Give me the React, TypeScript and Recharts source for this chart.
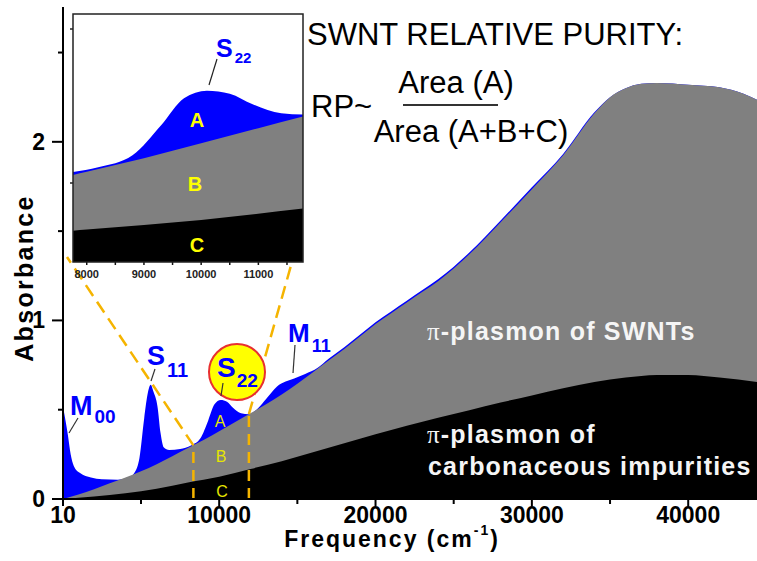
import { AreaChart, Area, XAxis, YAxis, ReferenceLine } from 'recharts';

// ---------------------------------------------------------------------------
// Data
// ---------------------------------------------------------------------------

// total absorbance (blue)
const totalFreq = [
  10, 150, 320, 500, 700, 1100, 1800, 2500, 3500, 4200, 4600, 4900, 5200, 5450, 5620,
  5800, 6050, 6250, 6450, 6800, 7500, 8200, 8800, 9300, 9700, 10100, 10500, 10900,
  11400, 11900, 12500, 13000, 13700, 14800, 15500, 16300, 17000, 18000, 19000, 20000,
  21000, 22000, 23000, 24000, 26000, 28000, 30000, 32000, 34000, 35000, 36000, 37000,
  38000, 40000, 42000, 43500, 44400,
];
const totalAbs = [
  0.52, 0.45, 0.36, 0.25, 0.185, 0.145, 0.12, 0.11, 0.108, 0.12, 0.15, 0.23, 0.45, 0.6,
  0.64, 0.6, 0.52, 0.37, 0.29, 0.275, 0.28, 0.3, 0.34, 0.44, 0.53, 0.555, 0.545, 0.51,
  0.48, 0.475, 0.51, 0.56, 0.63, 0.675, 0.7, 0.735, 0.785, 0.85, 0.92, 0.99,
  1.05, 1.11, 1.17, 1.23, 1.38, 1.56, 1.745, 1.932, 2.165, 2.25, 2.3, 2.325,
  2.33, 2.32, 2.305, 2.27, 2.235,
];

// pi-plasmon of SWNTs + impurities (gray)
const plasmonFreq = [
  10, 1000, 2000, 3000, 4000, 5000, 6000, 7000, 8000, 9000, 10000, 11000, 12000, 13000,
  14000, 15000, 16000, 17000, 18000, 19000, 20000, 21000, 22000, 23000, 24000, 26000,
  28000, 30000, 32000, 34000, 35000, 36000, 37000, 38000, 40000, 42000, 43500, 44400,
];
const plasmonAbs = [
  0, 0.025, 0.055, 0.088, 0.12, 0.155, 0.195, 0.24, 0.285, 0.33, 0.38, 0.43, 0.48, 0.53,
  0.585, 0.645, 0.71, 0.775, 0.84, 0.91, 0.98, 1.04, 1.1, 1.16, 1.22, 1.37,
  1.55, 1.735, 1.925, 2.16, 2.25, 2.3, 2.325, 2.33, 2.32, 2.305, 2.27, 2.235,
];

// pi-plasmon of carbonaceous impurities (black)
const impurityFreq = [
  10, 2000, 4000, 6000, 8000, 10000, 12000, 14000, 16000, 18000, 20000, 22000, 24000,
  26000, 28000, 30000, 32000, 34000, 36000, 38000, 40000, 42000, 44400,
];
const impurityAbs = [
  0, 0.014, 0.032, 0.058, 0.093, 0.125, 0.168, 0.212, 0.262, 0.312, 0.362, 0.41, 0.455,
  0.497, 0.54, 0.58, 0.62, 0.655, 0.68, 0.695, 0.695, 0.68, 0.655,
];

const xTicks = [10, 5000, 10000, 15000, 20000, 25000, 30000, 35000, 40000];
const yTicks = [0, 0.5, 1, 1.5, 2, 2.5];
const insetTicks = [8000, 8500, 9000, 9500, 10000, 10500, 11000, 11500];

// S22 window shown in the inset
const zoomFrom = 8350;
const zoomTo = 11900;

// ---------------------------------------------------------------------------
// Helpers
// ---------------------------------------------------------------------------

const toRows = (freq: number[], abs: number[]) => freq.map((f, i) => ({ f, a: abs[i] }));

const totalData = toRows(totalFreq, totalAbs);
const plasmonData = toRows(plasmonFreq, plasmonAbs);
const impurityData = toRows(impurityFreq, impurityAbs);

const FONT = '"Liberation Sans", Arial, sans-serif';
const BLUE = '#0000ff';
const GRAY = '#808080';
const ORANGE = '#f5b400';

function XTick({ x, y, payload }: any) {
  const v = payload.value;
  const major = v === 10 || v % 10000 === 0;
  return (
    <g>
      <line x1={x} x2={x} y1={y} y2={y + (major ? 7 : 5)} stroke="#000" strokeWidth={2} />
      {major && (
        <text x={x} y={y + 24} textAnchor="middle" fontSize={23} fontWeight="bold" fontFamily={FONT} fill="#000">
          {v}
        </text>
      )}
    </g>
  );
}

function YTick({ x, y, payload }: any) {
  const v = payload.value;
  const major = Number.isInteger(v);
  return (
    <g>
      <line x1={x} x2={x - (major ? 11 : 5)} y1={y} y2={y} stroke="#000" strokeWidth={2} />
      {major && (
        <text x={x - 18} y={y + 8} textAnchor="end" fontSize={23} fontWeight="bold" fontFamily={FONT} fill="#000">
          {v}
        </text>
      )}
    </g>
  );
}

function InsetTick({ x, y, payload }: any) {
  const v = payload.value;
  return (
    <g>
      <line x1={x} x2={x} y1={y} y2={y + 3} stroke="#111" strokeWidth={1.5} />
      {v % 1000 === 0 && (
        <text x={x} y={y + 16} textAnchor="middle" fontSize={11} fontWeight="bold" fontFamily={FONT} fill="#222">
          {v}
        </text>
      )}
    </g>
  );
}

function Layers() {
  return [
    <Area key="t" data={totalData} dataKey="a" type="monotone" fill={BLUE} fillOpacity={1} stroke="none" isAnimationActive={false} />,
    <Area key="p" data={plasmonData} dataKey="a" type="monotone" fill={GRAY} fillOpacity={1} stroke="none" isAnimationActive={false} />,
    <Area key="i" data={impurityData} dataKey="a" type="monotone" fill="#000" fillOpacity={1} stroke="none" isAnimationActive={false} />,
  ];
}

// ---------------------------------------------------------------------------
// Inset (zoom on S22)
// ---------------------------------------------------------------------------

function Inset() {
  const base = -0.015;
  return (
    <div style={{ position: 'absolute', left: 73, top: 14, width: 230, height: 268 }}>
      <div style={{ position: 'absolute', left: 0, top: 0, width: 230, height: 248, background: '#fff' }} />
      <AreaChart width={230} height={268} margin={{ top: 0, right: 0, bottom: 0, left: 0 }} style={{ position: 'absolute', left: 0, top: 0 }}>
        <XAxis
          dataKey="f"
          type="number"
          domain={[7760, 11780]}
          allowDataOverflow
          ticks={insetTicks}
          interval={0}
          tick={<InsetTick />}
          tickLine={false}
          tickSize={0}
          tickMargin={0}
          axisLine={false}
          height={20}
        />
        <YAxis type="number" domain={[base, 0.81]} allowDataOverflow hide />
        <Area data={totalData} dataKey="a" type="monotone" baseValue={base} fill={BLUE} fillOpacity={1} stroke="none" isAnimationActive={false} />
        <Area data={plasmonData} dataKey="a" type="monotone" baseValue={base} fill={GRAY} fillOpacity={1} stroke="none" isAnimationActive={false} />
        <Area data={impurityData} dataKey="a" type="monotone" baseValue={base} fill="#000" fillOpacity={1} stroke="none" isAnimationActive={false} />
      </AreaChart>
      <svg width={230} height={268} style={{ position: 'absolute', left: 0, top: 0, overflow: 'visible' }}>
        <rect x={0} y={0} width={230} height={248} fill="none" stroke="#222" strokeWidth={1.5} />
        <line x1={0} x2={-3} y1={15} y2={15} stroke="#222" strokeWidth={1.5} />
        <line x1={0} x2={-3} y1={169} y2={169} stroke="#222" strokeWidth={1.5} />
        <line x1={144} y1={45} x2={136} y2={71} stroke="#222" strokeWidth={1.2} />
        <text x={143} y={43} fontFamily={FONT} fontWeight="bold" fill={BLUE} fontSize={25}>
          S<tspan fontSize={15} dx={2} dy={6}>22</tspan>
        </text>
        <text x={124} y={113} textAnchor="middle" fontFamily={FONT} fontWeight="bold" fill="#ffff00" fontSize={20}>A</text>
        <text x={122} y={177} textAnchor="middle" fontFamily={FONT} fontWeight="bold" fill="#ffff00" fontSize={20}>B</text>
        <text x={124} y={238} textAnchor="middle" fontFamily={FONT} fontWeight="bold" fill="#ffff00" fontSize={20}>C</text>
      </svg>
    </div>
  );
}

// ---------------------------------------------------------------------------
// Main
// ---------------------------------------------------------------------------

export default function App() {
  const yTop = 2.755;
  return (
    <div style={{ position: 'absolute', left: 0, top: 0, width: 757, height: 561, overflow: 'hidden', background: '#fff', fontFamily: FONT }}>
      <AreaChart width={757} height={561} margin={{ top: 7, right: 0, bottom: 0, left: 0 }}>
        <XAxis
          dataKey="f"
          type="number"
          domain={[10, 44400]}
          allowDataOverflow
          ticks={xTicks}
          interval={0}
          tick={<XTick />}
          tickLine={false}
          tickSize={0}
          tickMargin={0}
          axisLine={{ stroke: '#000', strokeWidth: 2 }}
          height={62}
        />
        <XAxis xAxisId="top" orientation="top" type="number" domain={[10, 44400]} tick={false} tickLine={false} axisLine={{ stroke: '#000', strokeWidth: 2 }} height={0} />
        <YAxis
          type="number"
          domain={[0, yTop]}
          allowDataOverflow
          ticks={yTicks}
          interval={0}
          tick={<YTick />}
          tickLine={false}
          tickSize={0}
          tickMargin={0}
          axisLine={{ stroke: '#000', strokeWidth: 2 }}
          width={63}
        />
        {Layers()}
        <ReferenceLine segment={[{ x: zoomFrom, y: 0 }, { x: zoomFrom, y: 0.3 }]} stroke={ORANGE} strokeWidth={2.5} strokeDasharray="11 7" />
        <ReferenceLine segment={[{ x: zoomTo, y: 0 }, { x: zoomTo, y: 0.475 }]} stroke={ORANGE} strokeWidth={2.5} strokeDasharray="11 7" />
        <ReferenceLine segment={[{ x: zoomFrom, y: 0.3 }, { x: 266, y: 1.355 }]} stroke={ORANGE} strokeWidth={2.5} strokeDasharray="13 7" />
        <ReferenceLine segment={[{ x: zoomTo, y: 0.475 }, { x: 14657, y: 1.327 }]} stroke={ORANGE} strokeWidth={2.5} strokeDasharray="13 7" />
      </AreaChart>

      <svg width={757} height={561} style={{ position: 'absolute', left: 0, top: 0 }}>
        {/* axis titles */}
        <text x={392} y={547} textAnchor="middle" fontSize={23} fontWeight="bold" letterSpacing={2} fill="#000">
          Frequency (cm<tspan fontSize={14} dy={-12}>-1</tspan><tspan dy={12}>)</tspan>
        </text>
        <text transform="translate(33, 278) rotate(-90)" textAnchor="middle" fontSize={25} fontWeight="bold" letterSpacing={2.3} fill="#000">
          Absorbance
        </text>

        {/* purity formula */}
        <text x={307} y={45} fontSize={31} fill="#000">SWNT RELATIVE PURITY:</text>
        <text x={311} y={117} fontSize={31} fill="#000">RP~</text>
        <text x={456} y={93} textAnchor="middle" fontSize={31} fill="#000">Area (A)</text>
        <line x1={403} x2={498} y1={105} y2={105} stroke="#333" strokeWidth={2} />
        <text x={471} y={142} textAnchor="middle" fontSize={31} fill="#000">Area (A+B+C)</text>

        {/* band labels */}
        <text x={70} y={415} fontSize={27} fontWeight="bold" fill={BLUE}>
          M<tspan fontSize={19} dx={2} dy={8}>00</tspan>
        </text>
        <line x1={78} y1={418} x2={69} y2={433} stroke="#333" strokeWidth={1.2} />
        <text x={147} y={365} fontSize={27} fontWeight="bold" fill={BLUE}>
          S<tspan fontSize={20} dx={2} dy={12}>11</tspan>
        </text>
        <line x1={155} y1={369} x2={151} y2={381} stroke="#333" strokeWidth={1.2} />
        <text x={288} y={342} fontSize={26} fontWeight="bold" fill={BLUE}>
          M<tspan fontSize={18} dx={2} dy={10}>11</tspan>
        </text>
        <line x1={295} y1={345} x2={293} y2={373} stroke="#333" strokeWidth={1.2} />

        <circle cx={237} cy={372} r={28} fill="#ffff00" stroke="#e83030" strokeWidth={2} />
        <text x={217} y={377} fontSize={28} fontWeight="bold" fill={BLUE}>
          S<tspan fontSize={19} dx={1} dy={10}>22</tspan>
        </text>
        <line x1={223} y1={383} x2={221} y2={396} stroke="#333" strokeWidth={1.2} />

        <text x={220} y={427} textAnchor="middle" fontSize={16} fill="#e6e600">A</text>
        <text x={221} y={462} textAnchor="middle" fontSize={16} fill="#e6e600">B</text>
        <text x={222} y={497} textAnchor="middle" fontSize={16} fill="#e6e600">C</text>

        {/* plasmon captions */}
        <text x={427} y={340} fontSize={25} fontWeight="bold" letterSpacing={1.2} fill="#f5f5f5">
          <tspan fontFamily="'Liberation Serif', serif" fontWeight="normal">π</tspan>-plasmon of SWNTs
        </text>
        <text x={427} y={443} fontSize={25} fontWeight="bold" letterSpacing={1.2} fill="#f5f5f5">
          <tspan fontFamily="'Liberation Serif', serif" fontWeight="normal">π</tspan>-plasmon of
        </text>
        <text x={428} y={475} fontSize={25} fontWeight="bold" letterSpacing={1.2} fill="#f5f5f5">
          carbonaceous impurities
        </text>
      </svg>

      <Inset />
    </div>
  );
}
